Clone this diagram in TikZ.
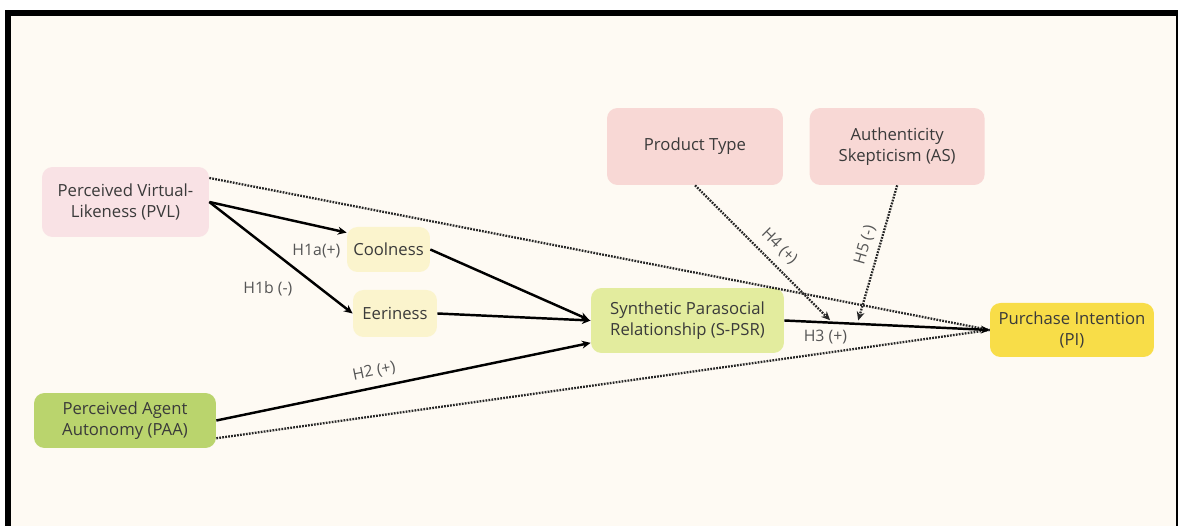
\documentclass[tikz,border=0pt]{standalone}
\usepackage{fontspec}
\setmainfont{Open Sans}
\usepackage{xcolor}
\usetikzlibrary{arrows.meta, positioning, calc}

\definecolor{bgcream}{HTML}{FEFAF3}
\definecolor{pvlpink}{HTML}{F9E2E5}
\definecolor{modpink}{HTML}{F8D8D5}
\definecolor{coolyellow}{HTML}{FBF4CD}
\definecolor{spsrgreen}{HTML}{E3EC9E}
\definecolor{paagreen}{HTML}{BAD46D}
\definecolor{piyellow}{HTML}{F8DD48}
\definecolor{textgray}{HTML}{3A3A3A}
\definecolor{labelgray}{HTML}{555555}

\begin{document}
\begin{tikzpicture}[
    x = 0.02cm, y = -0.02cm,
    box/.style     = {rectangle, rounded corners=6pt, align=center,
                      text=textgray, inner sep=2pt,
                      font=\fontsize{9.5}{12}\selectfont},
    arr/.style     = {-{Stealth[length=5pt, width=4.5pt]}, line width=1.4pt},
    modline/.style = {line width=1.3pt, dash pattern=on 1pt off 0.7pt,
                      draw=black!85},
    hyp/.style     = {font=\fontsize{9}{11}\selectfont, text=labelgray,
                      inner sep=1.5pt}
]
  % frame
  \fill[white] (0,0) rectangle (1178,526);
  \useasboundingbox (0,0) rectangle (1178,526);
  \fill[bgcream] (11,16) rectangle (1176,526);
  \fill[black] (5,10) rectangle (1178,16);
  \fill[black] (5,10) rectangle (11,526);
  \fill[black] (1176,10) rectangle (1178,526);

  \node[box, fill=pvlpink, minimum width=3.34cm, minimum height=1.4cm]
        (pvl) at (125.5,202) {Perceived Virtual-\\Likeness (PVL)};
  \node[box, fill=coolyellow, minimum width=1.66cm, minimum height=0.9cm]
        (cool) at (388.5,249.5) {Coolness};
  \node[box, fill=coolyellow, minimum width=1.68cm, minimum height=0.94cm]
        (eer) at (395,313.5) {Eeriness};
  \node[box, fill=spsrgreen, minimum width=3.86cm, minimum height=1.3cm]
        (spsr) at (687.5,320.5) {Synthetic Parasocial\\Relationship (S-PSR)};
  \node[box, fill=modpink, minimum width=3.52cm, minimum height=1.54cm]
        (pt) at (695,146.5) {Product Type};
  \node[box, fill=modpink, minimum width=3.5cm, minimum height=1.54cm,
        right=5.2mm of pt] (as) {Authenticity\\Skepticism (AS)};
  \node[box, fill=piyellow, minimum width=3.28cm, minimum height=1.08cm]
        (pi) at (1072,330) {Purchase Intention\\(PI)};
  \node[box, fill=paagreen, minimum width=3.64cm, minimum height=1.1cm]
        (paa) at (125,420.5) {Perceived Agent\\Autonomy (PAA)};

  % direct effects
  \draw[modline] (pvl.16) -- (pi.west);
  \draw[modline] (paa.-11) -- (pi.west);

  % paths
  \draw[arr] (pvl.east) -- (cool.158)
        node[hyp, pos=0.78, below=8pt] {H1a(+)};
  \draw[arr] (pvl.east) -- (eer.west)
        node[hyp, pos=0.68, anchor=north east, xshift=-6pt] {H1b (-)};
  \draw[arr, shorten >=1pt] (cool.east) -- (spsr.west);
  \draw[arr] (eer.east) -- (spsr.west);
  \draw[arr] (paa.east) -- (spsr.193)
        node[hyp, pos=0.43, above=3pt, sloped] {H2 (+)};
  \draw[arr] (spsr.east) -- (pi.west)
        node[hyp, pos=0.2, below=2pt] {H3 (+)};

  % moderators
  \coordinate (m4) at ($(spsr.east)!0.235!(pi.west)$);
  \coordinate (m5) at ($(spsr.east)!0.355!(pi.west)$);
  \draw[arr, modline, shorten >=2pt] (pt.south) -- (m4)
        node[hyp, pos=0.53, above=3pt, sloped] {H4 (+)};
  \draw[arr, modline, shorten >=2pt] (as.south) -- (m5)
        node[hyp, pos=0.46, above=2pt, sloped] {H5 (-)};
\end{tikzpicture}
\end{document}
